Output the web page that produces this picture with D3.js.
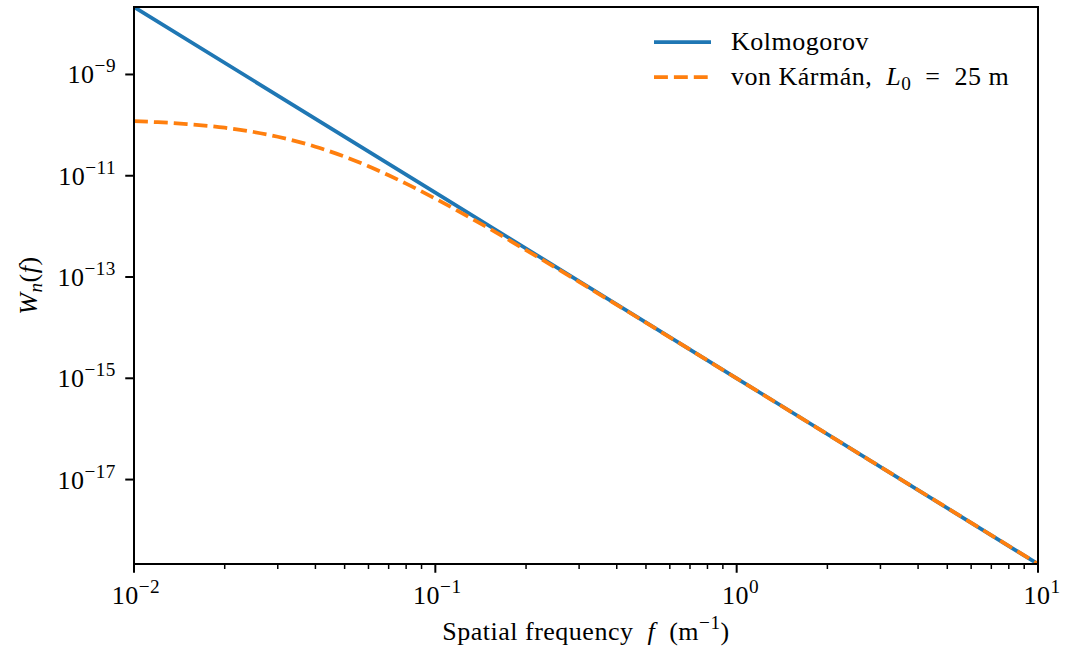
<!DOCTYPE html>
<html>
<head>
<meta charset="utf-8">
<script src="https://cdn.jsdelivr.net/npm/d3@7"></script>
<style>
  body { margin: 0; background: #fff; }
  svg { display: block; font-family: "Liberation Serif", "DejaVu Serif", serif; }
  text { letter-spacing: 0.5px; }
</style>
</head>
<body>
<svg id="chart" width="1065" height="653"></svg>
<script>
// spatial frequency (1/m) and the two spectra
const freqKolmogorov = [0.01, 0.1, 1, 10];
const wKolmogorov = [2.15e-8, 4.64e-12, 1.0e-15, 2.15e-19];

const freqKarman = [0.01, 0.012, 0.015, 0.02, 0.025, 0.03, 0.04, 0.05, 0.06, 0.07, 0.08, 0.1,
                    0.15, 0.2, 0.3, 0.5, 1, 2, 5, 10];
const wKarman = [1.196e-10, 1.141e-10, 1.05e-10, 8.88e-11, 7.30e-11, 5.89e-11, 3.75e-11, 2.38e-11,
                 1.54e-11, 1.02e-11, 6.99e-12, 3.54e-12, 9.25e-13, 3.40e-13, 8.0e-14, 1.256e-14,
                 9.97e-16, 7.87e-17, 2.74e-18, 2.15e-19];

const xTickExps = [-2, -1, 0, 1];
const yTickExps = [-9, -11, -13, -15, -17];
const legendLabels = ["Kolmogorov", "von Kármán"];

const margin = {left: 134, right: 27, top: 7, bottom: 89};
const width = 1065, height = 653;
const svg = d3.select('#chart');

const x = d3.scaleLog().domain([0.01, 10]).range([margin.left, width - margin.right]);
const yExtent = d3.extent(wKolmogorov.concat(wKarman));
const y = d3.scaleLog().domain(yExtent).range([height - margin.bottom, margin.top]);

const blue = '#1f77b4', orange = '#ff7f0e';
const fontSize = 26;
const supSize = fontSize * 0.74;

svg.append('clipPath').attr('id', 'clip')
  .append('rect')
  .attr('x', margin.left).attr('y', margin.top)
  .attr('width', width - margin.left - margin.right)
  .attr('height', height - margin.top - margin.bottom);

var line = d3.line()
  .x(function(d) { return x(d[0]); })
  .y(function(d) { return y(d[1]); });

var smoothLine = d3.line().curve(d3.curveMonotoneX)
  .x(function(d) { return x(d[0]); })
  .y(function(d) { return y(d[1]); });

const plot = svg.append('g').attr('clip-path', 'url(#clip)');

plot.append('path')
  .attr('d', line(freqKolmogorov.map((f, i) => [f, wKolmogorov[i]])))
  .attr('fill', 'none').attr('stroke', blue).attr('stroke-width', 3.75);

plot.append('path')
  .attr('d', smoothLine(freqKarman.map((f, i) => [f, wKarman[i]])))
  .attr('fill', 'none').attr('stroke', orange).attr('stroke-width', 3.75)
  .attr('stroke-dasharray', '13.9,6');

// x axis ticks
const xMinor = [];
for (let e = -2; e < 1; e++) {
  for (let k = 2; k <= 9; k++) xMinor.push(k * Math.pow(10, e));
}
const bottom = height - margin.bottom;
const axisG = svg.append('g');

axisG.selectAll('.xminor').data(xMinor).enter().append('line')
  .attr('x1', d => x(d)).attr('x2', d => x(d))
  .attr('y1', bottom).attr('y2', bottom + 5)
  .attr('stroke', '#000').attr('stroke-width', 1.5);

axisG.selectAll('.xmajor').data(xTickExps).enter().append('line')
  .attr('x1', d => x(Math.pow(10, d))).attr('x2', d => x(Math.pow(10, d)))
  .attr('y1', bottom).attr('y2', bottom + 8.75)
  .attr('stroke', '#000').attr('stroke-width', 2);

function powLabel(sel, e) {
  sel.append('tspan').text('10');
  sel.append('tspan').attr('dy', -11).attr('font-size', supSize)
    .text(e < 0 ? '\u2212' + (-e) : String(e));
}

xTickExps.forEach(function(e) {
  var t = axisG.append('text')
    .attr('x', x(Math.pow(10, e)) + (e < 0 ? 2 : 4)).attr('y', bottom + 40)
    .attr('text-anchor', 'middle').attr('font-size', fontSize);
  powLabel(t, e);
});

// y axis ticks
axisG.selectAll('.ymajor').data(yTickExps).enter().append('line')
  .attr('x1', margin.left - 8.75).attr('x2', margin.left)
  .attr('y1', d => y(Math.pow(10, d))).attr('y2', d => y(Math.pow(10, d)))
  .attr('stroke', '#000').attr('stroke-width', 2);

yTickExps.forEach(function(e) {
  var t = axisG.append('text')
    .attr('x', 116).attr('y', y(Math.pow(10, e)) + 9)
    .attr('text-anchor', 'end').attr('font-size', fontSize);
  powLabel(t, e);
});

// frame
svg.append('rect')
  .attr('x', margin.left).attr('y', margin.top)
  .attr('width', width - margin.left - margin.right)
  .attr('height', height - margin.top - margin.bottom)
  .attr('fill', 'none').attr('stroke', '#000').attr('stroke-width', 2);

// axis labels
var xl = svg.append('text')
  .attr('x', (margin.left + width - margin.right) / 2).attr('y', 640)
  .attr('text-anchor', 'middle').attr('font-size', fontSize)
  .attr('xml:space', 'preserve');
xl.append('tspan').text('Spatial frequency  ');
xl.append('tspan').attr('font-style', 'italic').text('f');
xl.append('tspan').text('  (m');
xl.append('tspan').attr('dy', -11).attr('font-size', supSize).text('\u22121');
xl.append('tspan').attr('dy', 11).text(')');

var yl = svg.append('text')
  .attr('transform', 'translate(37,' + ((margin.top + bottom) / 2) + ') rotate(-90)')
  .attr('text-anchor', 'middle').attr('font-size', fontSize);
yl.append('tspan').attr('font-style', 'italic').text('W');
yl.append('tspan').attr('font-style', 'italic').attr('dy', 5).attr('font-size', supSize).text('n');
yl.append('tspan').attr('dy', -5).text('(');
yl.append('tspan').attr('font-style', 'italic').text('f');
yl.append('tspan').text(')');

// legend
const legend = svg.append('g');
[[blue, null, 42], [orange, '13.9,6', 77]].forEach(function(d) {
  var l = legend.append('line')
    .attr('x1', 654).attr('x2', 711).attr('y1', d[2]).attr('y2', d[2])
    .attr('stroke', d[0]).attr('stroke-width', 3.75);
  if (d[1]) l.attr('stroke-dasharray', d[1]);
});
legend.append('text').attr('x', 731).attr('y', 50).attr('font-size', fontSize).text(legendLabels[0]);
var l2 = legend.append('text').attr('x', 731).attr('y', 85).attr('font-size', fontSize)
  .attr('xml:space', 'preserve');
l2.append('tspan').text(legendLabels[1] + ',  ');
l2.append('tspan').attr('font-style', 'italic').text('L');
l2.append('tspan').attr('dy', 5).attr('font-size', supSize).text('0');
l2.append('tspan').attr('dy', -5).text('  =  25 m');
</script>
</body>
</html>
